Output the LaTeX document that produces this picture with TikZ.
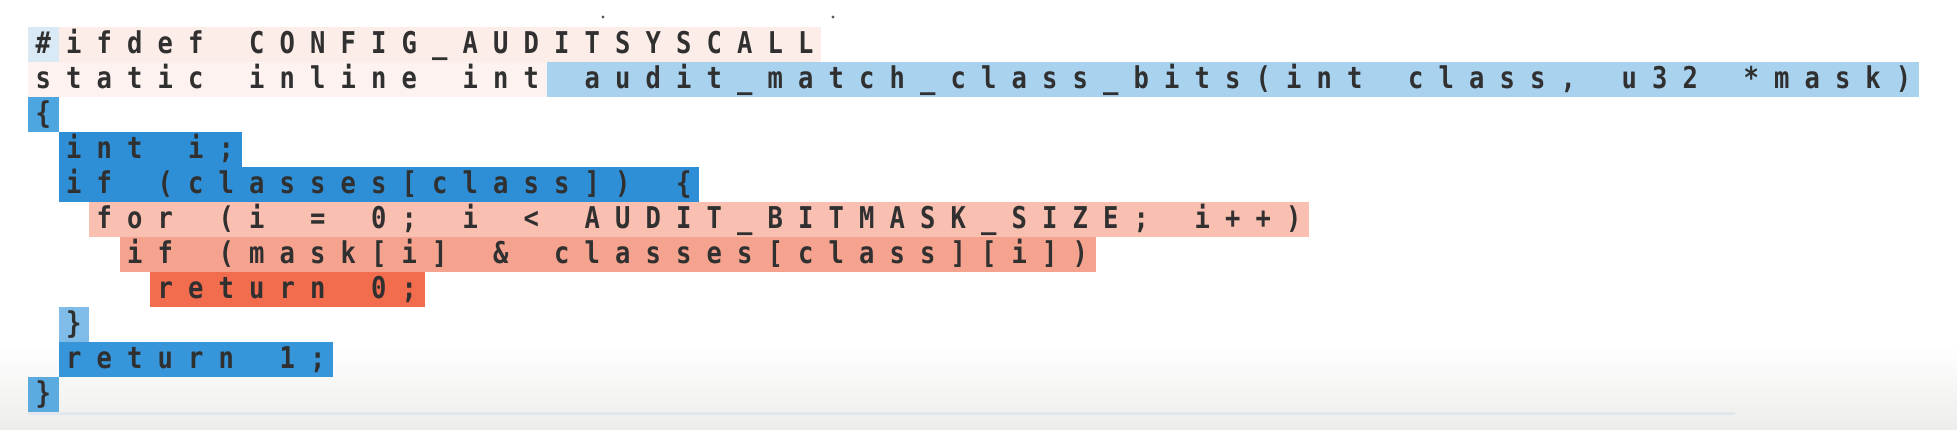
\documentclass[tikz,border=0pt]{standalone}
\usepackage{fontspec}
\newfontfamily\codefont{DejaVu Sans Mono}[FakeStretch=0.85]
\ExplSyntaxOn
\dim_new:N \l_codecw_dim
\dim_set:Nn \l_codecw_dim {30.5pt}
\NewDocumentCommand\codeline{m}{\tl_map_inline:nn {#1}{\makebox[\l_codecw_dim][c]{##1}}}
\ExplSyntaxOff
\definecolor{txt}{HTML}{303030}
\definecolor{palepink}{HTML}{FCEDE8}
\definecolor{palerpink}{HTML}{FDF2EF}
\definecolor{paleblue}{HTML}{D9E9F5}
\definecolor{lightblue}{HTML}{A9D2EF}
\definecolor{midblue}{HTML}{4EA6E0}
\definecolor{deepblue}{HTML}{2E8FD6}
\definecolor{softblue}{HTML}{7FBDE8}
\definecolor{retblue}{HTML}{3795DA}
\definecolor{endblue}{HTML}{5BABE1}
\definecolor{pinkA}{HTML}{F9BFB1}
\definecolor{pinkB}{HTML}{F5A38F}
\definecolor{pinkC}{HTML}{F26C4E}
\definecolor{floor}{HTML}{EDEDEB}
\definecolor{rule}{HTML}{E1E7EC}
\newcommand{\hlbox}[4]{\fill[#1] ({28+30.5*#2},{27+35*(#4-1)}) rectangle ({28+30.5*#3},{62+35*(#4-1)});}
\tikzset{codetext/.style={anchor=base west, inner sep=0pt, outer sep=0pt, text=txt,
  font=\codefont\bfseries\fontsize{30pt}{35pt}\selectfont}}
\begin{document}
\begin{tikzpicture}[x=1pt,y=-1pt]
\useasboundingbox (0,0) rectangle (1957,429);
\fill[white] (0,0) rectangle (1957,429);
\shade[top color=white, bottom color=floor] (0,345) rectangle (1957,429);
\draw[rule, line width=3pt] (28,413) -- (1735,413);
\fill[txt!80] (603,17) circle (1.6);
\fill[txt!80] (833,17) circle (1.6);
% highlights
\hlbox{paleblue}{0}{1}{1}
\hlbox{palepink}{1}{26}{1}
\hlbox{palerpink}{0}{17}{2}
\hlbox{lightblue}{17}{62}{2}
\hlbox{midblue}{0}{1}{3}
\hlbox{deepblue}{1}{7}{4}
\hlbox{deepblue}{1}{22}{5}
\hlbox{pinkA}{2}{42}{6}
\hlbox{pinkB}{3}{35}{7}
\hlbox{pinkC}{4}{13}{8}
\hlbox{softblue}{1}{2}{9}
\hlbox{retblue}{1}{10}{10}
\hlbox{endblue}{0}{1}{11}
% text
\node[codetext] (l1) at (28,53) {\codeline{\#ifdef~CONFIG\_AUDITSYSCALL}};
\node[codetext] (l2) at (28,88) {\codeline{static~inline~int~audit\_match\_class\_bits(int~class,~u32~*mask)}};
\node[codetext] (l3) at (28,123) {\codeline{\{}};
\node[codetext] (l4) at (58.5,158) {\codeline{int~i;}};
\node[codetext] (l5) at (58.5,193) {\codeline{if~(classes[class])~\{}};
\node[codetext] (l6) at (89,228) {\codeline{for~(i~=~0;~i~<~AUDIT\_BITMASK\_SIZE;~i++)}};
\node[codetext] (l7) at (119.5,263) {\codeline{if~(mask[i]~\&~classes[class][i])}};
\node[codetext] (l8) at (150,298) {\codeline{return~0;}};
\node[codetext] (l9) at (58.5,333) {\codeline{\}}};
\node[codetext] (l10) at (58.5,368) {\codeline{return~1;}};
\node[codetext] (l11) at (28,403) {\codeline{\}}};
\end{tikzpicture}
\end{document}
